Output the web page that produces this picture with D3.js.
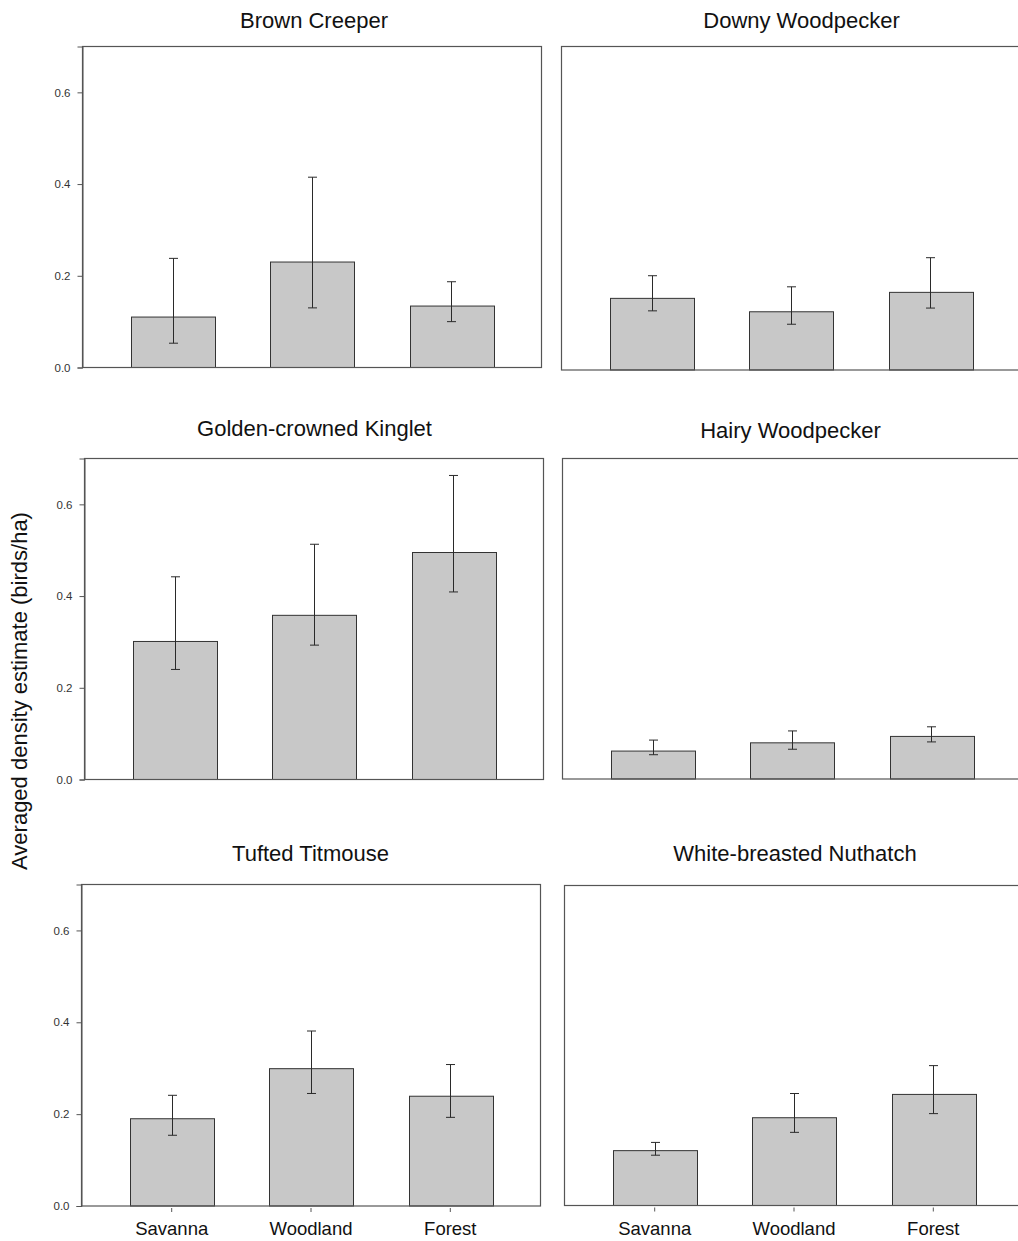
<!DOCTYPE html>
<html>
<head>
<meta charset="utf-8">
<script src="https://cdn.jsdelivr.net/npm/d3@7"></script>
<style>
  body { margin: 0; background: #fff; }
  svg { display: block; font-family: "Liberation Sans", Arial, sans-serif; }
</style>
</head>
<body>
<svg id="chart" width="1018" height="1241"></svg>
<script>
// ---------- data ----------
const categories = ["Savanna", "Woodland", "Forest"];
const species = ["Brown Creeper", "Downy Woodpecker", "Golden-crowned Kinglet",
                 "Hairy Woodpecker", "Tufted Titmouse", "White-breasted Nuthatch"];
const means = [
  [0.110, 0.230, 0.134],
  [0.155, 0.126, 0.168],
  [0.301, 0.358, 0.495],
  [0.061, 0.079, 0.093],
  [0.190, 0.299, 0.239],
  [0.120, 0.192, 0.243]
];
const lowerCI = [
  [0.053, 0.130, 0.100],
  [0.128, 0.099, 0.134],
  [0.240, 0.293, 0.409],
  [0.053, 0.065, 0.081],
  [0.154, 0.245, 0.193],
  [0.110, 0.160, 0.201]
];
const upperCI = [
  [0.238, 0.415, 0.187],
  [0.204, 0.180, 0.243],
  [0.442, 0.513, 0.663],
  [0.085, 0.105, 0.114],
  [0.241, 0.381, 0.308],
  [0.138, 0.245, 0.306]
];
const yTicks = [0, 0.2, 0.4, 0.6];
const yMax = 0.7;
const yLabel = "Averaged density estimate (birds/ha)";

// ---------- layout ----------
const panelWidth = 459;
const layout = [
  { left: 82.5,  top: 46.5,  bottom: 367.5,  tx: 314,   ty: 28,  yAxis: true,  xAxis: false },
  { left: 561.5, top: 46.5,  bottom: 370,    tx: 801.5, ty: 28,  yAxis: false, xAxis: false },
  { left: 84.5,  top: 458.5, bottom: 779.5,  tx: 314.5, ty: 436, yAxis: true,  xAxis: false },
  { left: 562.5, top: 458.5, bottom: 779,    tx: 790.5, ty: 438, yAxis: false, xAxis: false },
  { left: 81.5,  top: 884.5, bottom: 1206,   tx: 310.5, ty: 861, yAxis: true,  xAxis: true },
  { left: 564.5, top: 885.5, bottom: 1205.5, tx: 795,   ty: 861, yAxis: false, xAxis: true }
];

const svg = d3.select("#chart");
svg.append("rect").attr("width", 1018).attr("height", 1241).attr("fill", "#fff");

species.forEach((name, i) => {
  const L = layout[i];
  const g = svg.append("g");
  const x = d3.scaleBand()
    .domain(categories)
    .range([L.left, L.left + panelWidth])
    .paddingInner(0.4)
    .paddingOuter(0.3475);
  const y = d3.scaleLinear().domain([0, yMax]).range([L.bottom, L.top]);

  const rows = categories.map((c, j) => ({
    cat: c, m: means[i][j], lo: lowerCI[i][j], hi: upperCI[i][j]
  }));

  // bars
  g.selectAll("rect.bar").data(rows).enter().append("rect")
    .attr("class", "bar")
    .attr("x", d => Math.round(x(d.cat)) + 0.5)
    .attr("width", Math.round(x.bandwidth()))
    .attr("y", d => y(d.m))
    .attr("height", d => y(0) - y(d.m))
    .attr("fill", "#c8c8c8")
    .attr("stroke", "#333")
    .attr("stroke-width", 1);

  // error bars
  const eb = g.selectAll("g.err").data(rows).enter().append("g").attr("class", "err")
    .attr("stroke", "#2a2a2a").attr("stroke-width", 1);
  const cx = d => Math.round(x(d.cat) + x.bandwidth() / 2) + 0.5;
  eb.append("line").attr("x1", cx).attr("x2", cx)
    .attr("y1", d => y(d.lo)).attr("y2", d => y(d.hi));
  eb.append("line").attr("x1", d => cx(d) - 4.5).attr("x2", d => cx(d) + 4.5)
    .attr("y1", d => y(d.hi)).attr("y2", d => y(d.hi));
  eb.append("line").attr("x1", d => cx(d) - 4.5).attr("x2", d => cx(d) + 4.5)
    .attr("y1", d => y(d.lo)).attr("y2", d => y(d.lo));

  // frame
  g.append("rect")
    .attr("x", L.left).attr("y", L.top)
    .attr("width", panelWidth).attr("height", L.bottom - L.top)
    .attr("fill", "none").attr("stroke", "#555").attr("stroke-width", 1.2);

  // y axis
  if (L.yAxis) {
    const ya = g.append("g").attr("transform", `translate(${L.left},0)`)
      .call(d3.axisLeft(y).tickValues(yTicks).tickFormat(d3.format(".1f"))
        .tickSize(5).tickPadding(7));
    ya.select(".domain").attr("stroke", "#555");
    ya.selectAll(".tick line").attr("stroke", "#555");
    ya.selectAll(".tick text").attr("font-size", 11.5).attr("fill", "#333")
      .attr("font-family", "Liberation Sans, Arial, sans-serif");
  }

  // x axis
  if (L.xAxis) {
    const xa = g.append("g").attr("transform", `translate(0,${L.bottom + 2})`)
      .call(d3.axisBottom(x).tickSize(4).tickPadding(10));
    xa.select(".domain").remove();
    xa.selectAll(".tick line").attr("stroke", "#555");
    xa.selectAll(".tick text").attr("font-size", 18.5).attr("fill", "#111")
      .attr("font-family", "Liberation Sans, Arial, sans-serif");
  }

  // title
  g.append("text")
    .attr("x", L.tx).attr("y", L.ty)
    .attr("text-anchor", "middle")
    .attr("font-size", 22).attr("fill", "#111")
    .text(name);
});

// y axis label
svg.append("text")
  .attr("transform", "translate(27,691) rotate(-90)")
  .attr("text-anchor", "middle")
  .attr("font-size", 22).attr("fill", "#111")
  .text(yLabel);
</script>
</body>
</html>
